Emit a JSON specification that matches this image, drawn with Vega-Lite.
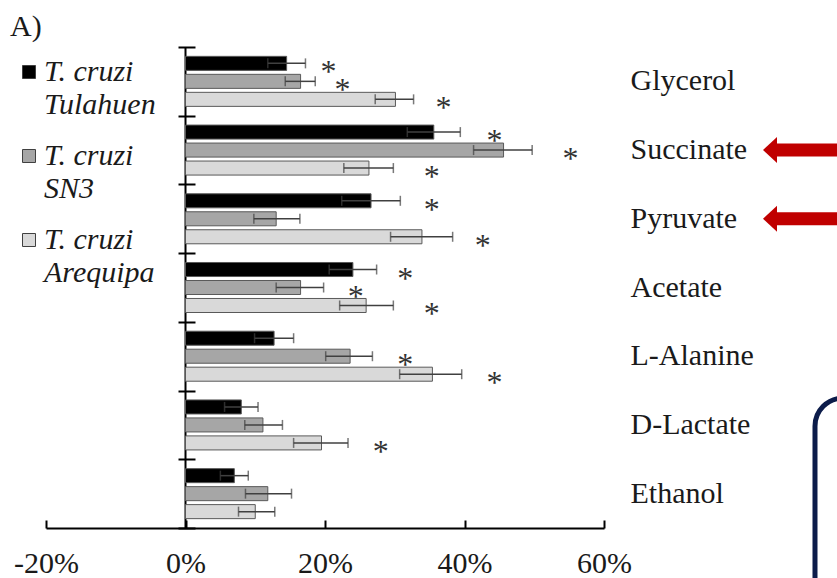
{
  "$schema": "https://vega.github.io/schema/vega-lite/v6.json",
  "width": 558,
  "height": 481,
  "autosize": {"type": "none"},
  "padding": {"left": 46, "top": 47, "right": 233, "bottom": 50},
  "background": "white",
  "title": {"text": "A)", "anchor": "start", "frame": "group", "dx": -36, "dy": 32, "offset": 12, "fontSize": 30, "font": "Liberation Serif", "fontWeight": "normal", "color": "#1a1a1a", "baseline": "alphabetic"},
  "datasets": {
    "bars": [
      {"metabolite": "Glycerol", "strain": "T. cruzi Tulahuen", "value": 14.5, "lo": 11.8, "hi": 17.2, "star": 20.5},
      {"metabolite": "Glycerol", "strain": "T. cruzi SN3", "value": 16.5, "lo": 14.3, "hi": 18.6, "star": 22.5},
      {"metabolite": "Glycerol", "strain": "T. cruzi Arequipa", "value": 30.1, "lo": 27.2, "hi": 32.7, "star": 37.0},
      {"metabolite": "Succinate", "strain": "T. cruzi Tulahuen", "value": 35.6, "lo": 31.8, "hi": 39.4, "star": 44.3},
      {"metabolite": "Succinate", "strain": "T. cruzi SN3", "value": 45.6, "lo": 41.3, "hi": 49.7, "star": 55.2},
      {"metabolite": "Succinate", "strain": "T. cruzi Arequipa", "value": 26.3, "lo": 22.7, "hi": 29.8, "star": 35.3},
      {"metabolite": "Pyruvate", "strain": "T. cruzi Tulahuen", "value": 26.6, "lo": 22.4, "hi": 30.8, "star": 35.3},
      {"metabolite": "Pyruvate", "strain": "T. cruzi SN3", "value": 13.0, "lo": 9.8, "hi": 16.4, "star": null},
      {"metabolite": "Pyruvate", "strain": "T. cruzi Arequipa", "value": 33.9, "lo": 29.4, "hi": 38.3, "star": 42.6},
      {"metabolite": "Acetate", "strain": "T. cruzi Tulahuen", "value": 24.0, "lo": 20.6, "hi": 27.4, "star": 31.5},
      {"metabolite": "Acetate", "strain": "T. cruzi SN3", "value": 16.5, "lo": 13.0, "hi": 19.8, "star": 24.4},
      {"metabolite": "Acetate", "strain": "T. cruzi Arequipa", "value": 25.9, "lo": 22.1, "hi": 29.8, "star": 35.3},
      {"metabolite": "L-Alanine", "strain": "T. cruzi Tulahuen", "value": 12.7, "lo": 9.9, "hi": 15.5, "star": null},
      {"metabolite": "L-Alanine", "strain": "T. cruzi SN3", "value": 23.6, "lo": 20.1, "hi": 26.8, "star": 31.5},
      {"metabolite": "L-Alanine", "strain": "T. cruzi Arequipa", "value": 35.4, "lo": 30.7, "hi": 39.6, "star": 44.3},
      {"metabolite": "D-Lactate", "strain": "T. cruzi Tulahuen", "value": 8.0, "lo": 5.6, "hi": 10.4, "star": null},
      {"metabolite": "D-Lactate", "strain": "T. cruzi SN3", "value": 11.1, "lo": 8.5, "hi": 13.9, "star": null},
      {"metabolite": "D-Lactate", "strain": "T. cruzi Arequipa", "value": 19.5, "lo": 15.5, "hi": 23.3, "star": 28.0},
      {"metabolite": "Ethanol", "strain": "T. cruzi Tulahuen", "value": 7.0, "lo": 5.0, "hi": 9.0, "star": null},
      {"metabolite": "Ethanol", "strain": "T. cruzi SN3", "value": 11.8, "lo": 8.6, "hi": 15.2, "star": null},
      {"metabolite": "Ethanol", "strain": "T. cruzi Arequipa", "value": 10.0, "lo": 7.6, "hi": 12.8, "star": null}
    ],
    "arrows": [
      {"metabolite": "Succinate", "tip": 83.8, "tail_start": 84.6, "tail_end": 100},
      {"metabolite": "Pyruvate", "tip": 83.8, "tail_start": 84.6, "tail_end": 100}
    ],
    "box": [
      {"left": 90.25, "right": 130, "top": 27, "bottom": -30}
    ]
  },
  "layer": [
    {
      "data": {"name": "bars"},
      "layer": [
        {
          "data": {"values": [{}]},
          "mark": {"type": "rule", "color": "black", "strokeWidth": 2},
          "encoding": {"x": {"datum": 0, "type": "quantitative"}}
        },
        {
          "mark": {"type": "bar", "stroke": "#595959", "strokeWidth": 1},
          "encoding": {
            "x": {
              "field": "value", "type": "quantitative",
              "scale": {"domain": [-20, 60], "nice": false},
              "axis": {
                "orient": "bottom",
                "values": [-20, 0, 20, 40, 60],
                "labelExpr": "datum.value + '%'",
                "title": null, "grid": false, "domain": true, "ticks": true, "labels": true,
                "domainColor": "black", "domainWidth": 2,
                "tickColor": "black", "tickWidth": 2, "tickSize": -8,
                "labelFont": "Liberation Serif", "labelFontSize": 30, "labelColor": "#1a1a1a",
                "labelPadding": 28, "labelFlush": false
              }
            },
            "y": {
              "field": "metabolite", "type": "nominal",
              "scale": {"domain": ["Glycerol", "Succinate", "Pyruvate", "Acetate", "L-Alanine", "D-Lactate", "Ethanol"], "paddingInner": 0, "paddingOuter": 0},
              "axis": {
                "orient": "right", "title": null, "domain": false, "ticks": false,
                "labelAlign": "left", "labelBaseline": "middle", "labelPadding": 26,
                "labelFont": "Liberation Serif", "labelFontSize": 30, "labelColor": "#1a1a1a", "labelLimit": 0
              }
            },
            "yOffset": {
              "field": "strain", "type": "nominal",
              "scale": {"domain": ["T. cruzi Tulahuen", "T. cruzi SN3", "T. cruzi Arequipa"], "paddingInner": 0.22, "paddingOuter": 0.52}
            },
            "color": {
              "field": "strain", "type": "nominal",
              "scale": {"domain": ["T. cruzi Tulahuen", "T. cruzi SN3", "T. cruzi Arequipa"], "range": ["#000000", "#a6a6a6", "#d9d9d9"]},
              "legend": {
                "orient": "none", "legendX": -32, "legendY": 10, "title": null, "padding": 0,
                "symbolType": "square", "symbolSize": 169, "symbolStrokeColor": "#404040", "symbolStrokeWidth": 1,
                "labelFont": "Liberation Serif", "labelFontStyle": "italic", "labelFontSize": 30, "labelColor": "#1a1a1a",
                "labelOffset": 0, "labelLimit": 0, "labelBaseline": "alphabetic",
                "labelExpr": "[slice(datum.label, 0, 8), slice(datum.label, 9)]",
                "rowPadding": 21,
                "encode": {"labels": {"update": {"dy": {"value": 9}, "lineHeight": {"value": 33}}}}
              }
            }
          }
        },
        {
          "mark": {"type": "rule", "color": "#404040", "strokeWidth": 1.5},
          "encoding": {
            "x": {"field": "lo", "type": "quantitative"},
            "x2": {"field": "hi"},
            "y": {
              "field": "metabolite", "type": "nominal",
              "axis": {
                "orient": "left", "title": null, "domain": false, "labels": false,
                "tickBand": "extent", "tickSize": 17, "tickWidth": 2, "tickColor": "black", "offset": -149
              }
            },
            "yOffset": {"field": "strain", "type": "nominal"}
          }
        },
        {
          "mark": {"type": "tick", "color": "#404040", "thickness": 1.5, "size": 10},
          "encoding": {
            "x": {"field": "lo", "type": "quantitative"},
            "y": {"field": "metabolite", "type": "nominal", "axis": null},
            "yOffset": {"field": "strain", "type": "nominal"}
          }
        },
        {
          "mark": {"type": "tick", "color": "#404040", "thickness": 1.5, "size": 10},
          "encoding": {
            "x": {"field": "hi", "type": "quantitative"},
            "y": {"field": "metabolite", "type": "nominal", "axis": null},
            "yOffset": {"field": "strain", "type": "nominal"}
          }
        },
        {
          "transform": [{"filter": "datum.star != null"}],
          "mark": {"type": "text", "text": "*", "font": "Liberation Serif", "fontSize": 32, "color": "#333333", "align": "center", "baseline": "middle", "dy": 9},
          "encoding": {
            "x": {"field": "star", "type": "quantitative"},
            "y": {"field": "metabolite", "type": "nominal", "axis": null},
            "yOffset": {"field": "strain", "type": "nominal"}
          }
        },
        {
          "data": {"name": "arrows"},
          "mark": {"type": "rule", "color": "#c00000", "strokeWidth": 13, "strokeCap": "butt"},
          "encoding": {
            "x": {"field": "tail_start", "type": "quantitative"},
            "x2": {"field": "tail_end"},
            "y": {"field": "metabolite", "type": "nominal", "axis": null}
          }
        },
        {
          "data": {"name": "arrows"},
          "mark": {"type": "point", "shape": "M-0.54,0L0.54,-1L0.54,1Z", "filled": true, "color": "#c00000", "opacity": 1, "size": 676},
          "encoding": {
            "x": {"field": "tip", "type": "quantitative"},
            "y": {"field": "metabolite", "type": "nominal", "axis": null}
          }
        }
      ],
      "resolve": {"axis": {"y": "independent"}}
    },
    {
      "data": {"name": "box"},
      "mark": {"type": "rect", "filled": false, "stroke": "#0c1c4a", "strokeWidth": 5, "cornerRadius": 28},
      "encoding": {
        "x": {"field": "left", "type": "quantitative"},
        "x2": {"field": "right"},
        "y": {"field": "top", "type": "quantitative", "scale": {"domain": [0, 100], "nice": false, "zero": false}, "axis": null},
        "y2": {"field": "bottom"}
      }
    }
  ],
  "resolve": {"scale": {"y": "independent"}, "axis": {"y": "independent"}},
  "config": {
    "view": {"stroke": null},
    "axis": {"grid": false}
  }
}
